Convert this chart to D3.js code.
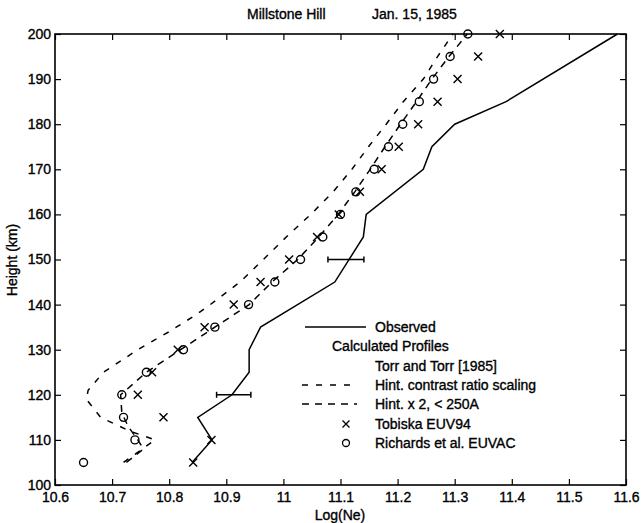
<!DOCTYPE html>
<html><head><meta charset="utf-8">
<script src="https://cdn.jsdelivr.net/npm/d3@7"></script>
<style>body{margin:0;background:#fff}svg{display:block}text{font-family:"Liberation Sans",Arial,Helvetica,sans-serif;fill:#000;stroke:#000;stroke-width:0.35px}</style>
</head><body><svg id="c" width="644" height="523"></svg>
<script>
// ---- data ----
const title1 = "Millstone Hill";
const title2 = "Jan. 15, 1985";
const xTicks = [10.6,10.7,10.8,10.9,11,11.1,11.2,11.3,11.4,11.5,11.6];
const yTicks = [100,110,120,130,140,150,160,170,180,190,200];
const obsHeight = [105,110,115,120,125,130,135,145,155,160,170,175,180,185,200];
const obsLogNe  = [10.84,10.875,10.85,10.91,10.94,10.94,10.96,11.09,11.14,11.145,11.245,11.26,11.30,11.39,11.585];
const errHeight = [120,150];
const errLo = [10.883,11.078];
const errHi = [10.943,11.141];
const contrastHeight = [105,110,112,115,119,121,125,130,134,138,140,145,150,155,160,165,170,175,180,185,190,195,200];
const contrastLogNe  = [10.72,10.775,10.73,10.68,10.655,10.658,10.685,10.745,10.80,10.85,10.872,10.924,10.965,11.005,11.048,11.087,11.12,11.149,11.18,11.21,11.245,11.27,11.297];
const x2Height = [105,108,110,113,116,120,125,130,135,140,145,150,155,160,165,170,175,180,185,190,195,200];
const x2LogNe  = [10.725,10.755,10.745,10.728,10.717,10.715,10.76,10.82,10.88,10.94,10.98,11.025,11.062,11.096,11.125,11.152,11.178,11.205,11.233,11.26,11.29,11.322];
const markHeight = [105,110,115,120,125,130,135,140,145,150,155,160,165,170,175,180,185,190,195,200];
const tobiskaLogNe  = [10.842,10.874,10.79,10.745,10.77,10.815,10.862,10.913,10.96,11.01,11.059,11.097,11.134,11.172,11.202,11.236,11.27,11.305,11.341,11.379];
const richardsLogNe = [10.65,10.74,10.72,10.717,10.76,10.825,10.88,10.939,10.985,11.03,11.069,11.10,11.127,11.159,11.184,11.209,11.238,11.263,11.292,11.323];
const legendLabels = ["Observed","Calculated Profiles","Torr and Torr [1985]","Hint. contrast ratio scaling","Hint. x 2, < 250A","Tobiska EUV94","Richards et al. EUVAC"];

// ---- layout ----
const L=55,R=626,T=34,B=485;
const svg=d3.select("#c");
const x=d3.scaleLinear().domain([10.6,11.6]).range([L,R]);
const y=d3.scaleLinear().domain([100,200]).range([B,T]);
const fmtX=d=>d===11?"11":d3.format(".1f")(d);

// axes (ticks inward)
const ax=svg.append("g");
ax.append("g").attr("transform",`translate(0,${B})`)
  .call(d3.axisBottom(x).tickValues(xTicks).tickFormat(fmtX).tickSize(-6).tickPadding(7));
ax.append("g").attr("transform",`translate(0,${T})`)
  .call(d3.axisTop(x).tickValues(xTicks).tickFormat("").tickSize(-6));
ax.append("g").attr("transform",`translate(${L},0)`)
  .call(d3.axisLeft(y).tickValues(yTicks).tickSize(-6).tickPadding(4));
ax.append("g").attr("transform",`translate(${R},0)`)
  .call(d3.axisRight(y).tickValues(yTicks).tickFormat("").tickSize(-6));
ax.selectAll(".domain").remove();
ax.selectAll(".tick line").attr("stroke","#000").attr("stroke-width",1.2);
ax.selectAll(".tick text").style("font-size","14px").attr("fill","#000");
svg.append("rect").attr("x",L).attr("y",T).attr("width",R-L).attr("height",B-T)
  .attr("fill","none").attr("stroke","#000").attr("stroke-width",1.6);

// titles
svg.append("text").attr("x",247).attr("y",19).style("font-size","14px").text(title1);
svg.append("text").attr("x",372).attr("y",19).style("font-size","14px").text(title2);
svg.append("text").attr("x",340).attr("y",520).attr("text-anchor","middle").style("font-size","14px").text("Log(Ne)");
svg.append("text").attr("transform","translate(17,260) rotate(-90)").attr("text-anchor","middle").style("font-size","14px").text("Height (km)");

const line=d3.line().x(d=>x(d[0])).y(d=>y(d[1]));
const zip=(a,b)=>a.map((v,i)=>[v,b[i]]);
const DASH_C="6,8", DASH_X="7,6";

svg.append("path").datum(zip(obsLogNe,obsHeight)).attr("d",line)
  .attr("fill","none").attr("stroke","#000").attr("stroke-width",1.5);
svg.append("path").datum(zip(contrastLogNe,contrastHeight)).attr("d",line)
  .attr("fill","none").attr("stroke","#000").attr("stroke-width",1.5).attr("stroke-dasharray",DASH_C);
svg.append("path").datum(zip(x2LogNe,x2Height)).attr("d",line)
  .attr("fill","none").attr("stroke","#000").attr("stroke-width",1.5).attr("stroke-dasharray",DASH_X);

// error bars
const eb=svg.append("g").attr("stroke","#000").attr("stroke-width",1.5);
errHeight.forEach((h,i)=>{
  eb.append("line").attr("x1",x(errLo[i])).attr("x2",x(errHi[i])).attr("y1",y(h)).attr("y2",y(h));
  [errLo[i],errHi[i]].forEach(v=>eb.append("line").attr("x1",x(v)).attr("x2",x(v)).attr("y1",y(h)-3).attr("y2",y(h)+3));
});

// markers
const s=4;
const xm=svg.append("g").attr("stroke","#000").attr("stroke-width",1.4);
markHeight.forEach((h,i)=>{
  const cx=x(tobiskaLogNe[i]), cy=y(h);
  xm.append("path").attr("d",`M${cx-s},${cy-s}L${cx+s},${cy+s}M${cx-s},${cy+s}L${cx+s},${cy-s}`);
});
svg.append("g").selectAll("circle").data(zip(richardsLogNe,markHeight)).join("circle")
  .attr("cx",d=>x(d[0])).attr("cy",d=>y(d[1])).attr("r",4)
  .attr("fill","none").attr("stroke","#000").attr("stroke-width",1.4);

// legend
const lg=svg.append("g");
const tx=375, rows=[327,346,366,385,404,424,443];
legendLabels.forEach((t,i)=>{
  lg.append("text").attr("x", i===1?332:tx).attr("y",rows[i]+5).style("font-size","14px").text(t);
});
lg.append("line").attr("x1",305).attr("x2",366).attr("y1",rows[0]).attr("y2",rows[0]).attr("stroke","#000").attr("stroke-width",1.5);
lg.append("line").attr("x1",302).attr("x2",350).attr("y1",rows[3]).attr("y2",rows[3]).attr("stroke","#000").attr("stroke-width",1.5).attr("stroke-dasharray",DASH_C);
lg.append("line").attr("x1",302).attr("x2",357).attr("y1",rows[4]).attr("y2",rows[4]).attr("stroke","#000").attr("stroke-width",1.5).attr("stroke-dasharray",DASH_X);
const lx=346, ly=rows[5];
lg.append("path").attr("d",`M${lx-3.5},${ly-3.5}L${lx+3.5},${ly+3.5}M${lx-3.5},${ly+3.5}L${lx+3.5},${ly-3.5}`).attr("stroke","#000").attr("stroke-width",1.3);
lg.append("circle").attr("cx",lx).attr("cy",rows[6]).attr("r",3.5).attr("fill","none").attr("stroke","#000").attr("stroke-width",1.3);
</script></body></html>
